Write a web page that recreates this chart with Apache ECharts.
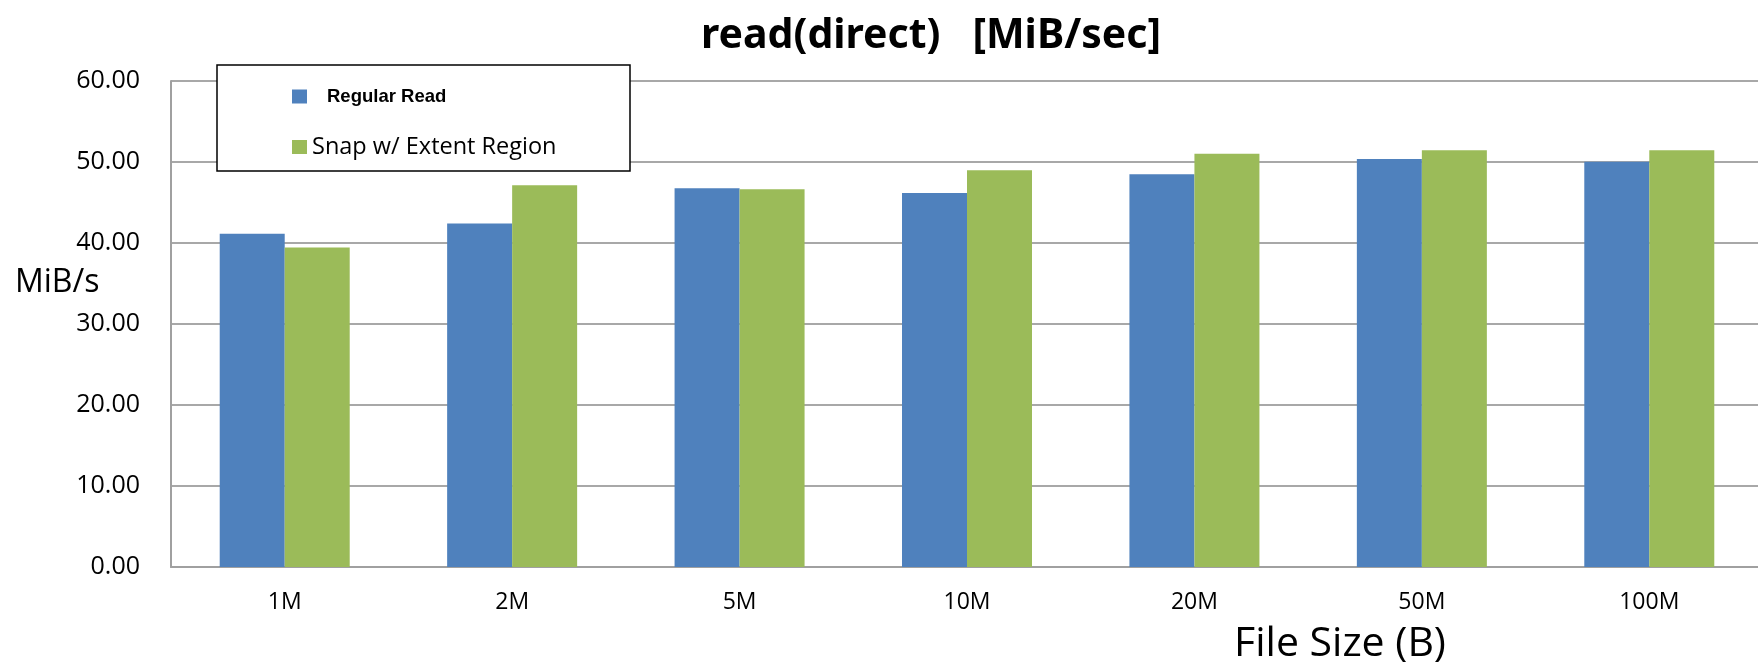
<!DOCTYPE html>
<html>
<head>
<meta charset="utf-8">
<script src="https://cdn.jsdelivr.net/npm/echarts@6/dist/echarts.min.js"></script>
<style>html,body{margin:0;padding:0;background:#fff}#c{width:1758px;height:662px}</style>
</head>
<body>
<div id="c"></div>
<script>
const categories = ['1M', '2M', '5M', '10M', '20M', '50M', '100M'];
const regularRead = [41.15, 42.42, 46.76, 46.17, 48.50, 50.37, 50.04];
const snapExtent = [39.43, 47.13, 46.64, 48.98, 51.02, 51.46, 51.46];
const yTicks = { min: 0, max: 60, interval: 10 };

const chart = echarts.init(document.getElementById('c'));
const labelFont = "'Open Sans', 'Noto Sans', sans-serif";
chart.setOption({
  animation: false,
  backgroundColor: '#fff',
  title: [{
    text: 'read(direct)   [MiB/sec]',
    left: 926, top: 11, textAlign: 'center',
    textStyle: { fontFamily: "'Noto Sans', sans-serif", fontWeight: 'bold', fontSize: 41, color: '#000' }
  }, {
    text: 'MiB/s',
    left: 10, top: 262,
    textStyle: { fontFamily: labelFont, fontWeight: 'normal', fontSize: 32, color: '#000' }
  }],
  graphic: [{
    type: 'rect', z: 50,
    shape: { x: 217, y: 65, width: 413, height: 106 },
    style: { fill: '#fff', stroke: '#000', lineWidth: 1.5 }
  }],
  legend: [{
    z: 60, left: 287, top: 82, itemWidth: 15, itemHeight: 14,
    data: [{ name: 'Regular Read', icon: 'rect' }],
    itemGap: 0,
    textStyle: { fontFamily: "'Liberation Sans', Arial, sans-serif", fontWeight: 'bold', fontSize: 18.5, color: '#000', padding: [0, 0, 0, 15] }
  }, {
    z: 60, left: 287, top: 130, itemWidth: 15, itemHeight: 14,
    data: [{ name: 'Snap w/ Extent Region', icon: 'rect' }],
    itemGap: 0,
    textStyle: { fontFamily: labelFont, fontSize: 23.5, color: '#000' }
  }],
  grid: { left: 171, top: 81, width: 1592, height: 486, outerBoundsMode: 'none', containLabel: false },
  xAxis: {
    type: 'category', data: categories,
    axisLine: { lineStyle: { color: '#a0a0a0', width: 2 } },
    axisTick: { show: false },
    axisLabel: { margin: 24, fontFamily: labelFont, fontSize: 23, color: '#000' },
    name: 'File Size (B)', nameLocation: 'middle', nameGap: 57,
    nameTextStyle: { fontFamily: labelFont, fontSize: 41, color: '#000', padding: [0, 0, 0, 746] }
  },
  yAxis: {
    type: 'value', min: yTicks.min, max: yTicks.max, interval: yTicks.interval,
    axisLine: { show: true, lineStyle: { color: '#a0a0a0', width: 2 } },
    axisTick: { show: false },
    splitLine: { lineStyle: { color: '#a8a8a8', width: 2 } },
    axisLabel: { margin: 31, fontFamily: labelFont, fontSize: 25, color: '#000', formatter: v => v.toFixed(2) }
  },
  series: [{
    name: 'Regular Read', type: 'bar', data: regularRead, barWidth: 65, barGap: '0%',
    itemStyle: { color: '#4F81BD' }
  }, {
    name: 'Snap w/ Extent Region', type: 'bar', data: snapExtent, barWidth: 65,
    itemStyle: { color: '#9BBB59' }
  }]
});
</script>
</body>
</html>
